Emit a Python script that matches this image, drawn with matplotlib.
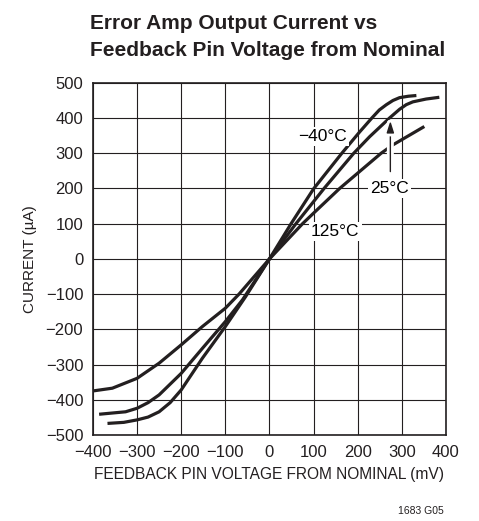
import matplotlib.pyplot as plt
import matplotlib.patheffects as pe

plt.rcParams["font.family"] = ["Liberation Sans", "DejaVu Sans"]

# ---- data (mV, uA) ----
v_m40 = [-367, -330, -300, -275, -250, -225, -200, -152, -100, -54, 0, 49, 100, 164, 204, 232, 249, 265, 280, 295, 315, 333]
i_m40 = [-467, -464, -457, -449, -434, -408, -372, -282, -192, -107, 0, 100, 199, 300, 360, 400, 423, 438, 450, 458, 462, 464]

v_25 = [-386, -326, -300, -275, -250, -200, -152, -100, -61, 0, 60, 125, 191, 227, 272, 295, 310, 325, 355, 385]
i_25 = [-441, -434, -424, -408, -386, -325, -254, -178, -116, 0, 100, 202, 300, 347, 400, 425, 438, 446, 454, 459]

v_125 = [-401, -356, -300, -250, -200, -152, -100, -69, 0, 75, 100, 159, 253, 280, 351]
i_125 = [-375, -367, -339, -296, -244, -192, -140, -100, 0, 100, 130, 200, 300, 324, 376]

x_ticks = [-400, -300, -200, -100, 0, 100, 200, 300, 400]
y_ticks = [-500, -400, -300, -200, -100, 0, 100, 200, 300, 400, 500]

# ---- figure ----
fig = plt.figure(figsize=(4.79, 5.21), dpi=100)
ax = fig.add_axes([0.194, 0.165, 0.737, 0.676])

for v, i in [(v_m40, i_m40), (v_25, i_25), (v_125, i_125)]:
    ax.plot(v, i, color="#231f20", linewidth=2.3, solid_capstyle="butt",
            solid_joinstyle="round", zorder=3)

ax.set_xlim(-400, 400)
ax.set_ylim(-500, 500)
ax.set_xticks(x_ticks)
ax.set_yticks(y_ticks)
ax.set_xticklabels([str(t).replace("-", "\u2212") for t in x_ticks])
ax.set_yticklabels([str(t).replace("-", "\u2212") for t in y_ticks])
ax.tick_params(length=0, pad=7, labelsize=12, colors="#231f20")
ax.grid(True, color="#231f20", linewidth=0.8)
ax.set_axisbelow(True)
for s in ax.spines.values():
    s.set_linewidth(1.2)
    s.set_color("#231f20")

ax.set_xlabel("FEEDBACK PIN VOLTAGE FROM NOMINAL (mV)", fontsize=11.2, color="#231f20", labelpad=5)
ax.set_ylabel("CURRENT (\u00b5A)", fontsize=11, color="#231f20", labelpad=6)

# curve labels
box = dict(facecolor="white", edgecolor="none", pad=1.5)
ax.text(121, 348, "\u221240\u00b0C", fontsize=12.5, ha="center", va="center", bbox=box, zorder=4)
ax.text(272, 201, "25\u00b0C", fontsize=12.5, ha="center", va="center", bbox=box, zorder=4)
ax.text(149, 79, "125\u00b0C", fontsize=12.5, ha="center", va="center", bbox=box, zorder=4)

arr = ax.annotate("", xy=(274, 392), xytext=(274, 248),
                  arrowprops=dict(arrowstyle="-|>,head_length=0.7,head_width=0.22",
                                  color="#231f20", linewidth=1.0, shrinkA=0, shrinkB=0),
                  zorder=5)
arr.arrow_patch.set_path_effects([pe.Stroke(linewidth=5, foreground="white"), pe.Normal()])

# title
fig.text(0.188, 0.955, "Error Amp Output Current vs", fontsize=15, fontweight="bold",
         color="#231f20", ha="left", va="center")
fig.text(0.188, 0.903, "Feedback Pin Voltage from Nominal", fontsize=15, fontweight="bold",
         color="#231f20", ha="left", va="center")

fig.text(0.927, 0.01, "1683 G05", fontsize=7.5, color="#231f20", ha="right", va="bottom")

fig.savefig("out.png", dpi=100)
